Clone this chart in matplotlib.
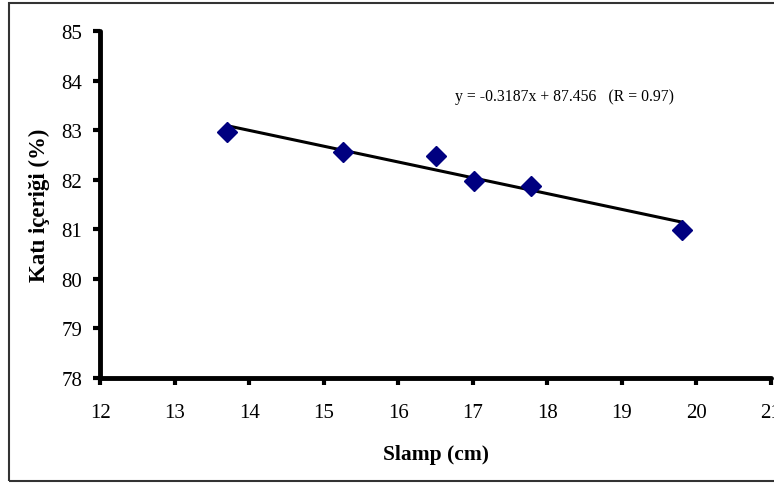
import matplotlib
matplotlib.use("Agg")
import matplotlib.pyplot as plt
import numpy as np
from matplotlib.patches import Rectangle

slump = [13.7, 15.25, 16.5, 17.02, 17.78, 19.8]
solids = [82.96, 82.56, 82.48, 81.97, 81.87, 80.99]
slope = -0.3187
intercept = 87.456
xticks = [12, 13, 14, 15, 16, 17, 18, 19, 20, 21]
yticks = [78, 79, 80, 81, 82, 83, 84, 85]

plt.rcParams['font.family'] = ['Liberation Serif', 'DejaVu Serif']

fig = plt.figure(figsize=(7.74, 4.85), dpi=100)
ax = fig.add_axes([0.1298, 0.2186, 0.996 - 0.1298, 0.934 - 0.2186])

fit_x = np.array([min(slump), max(slump)])
ax.plot(fit_x, slope * fit_x + intercept, color='black', lw=2.2, zorder=2)
ax.plot(slump, solids, linestyle='none', marker='D', ms=10.5, color='#000080',
        markeredgecolor='#000080', zorder=3, clip_on=False)

ax.set_xlim(12, 21)
ax.set_ylim(78, 85)
ax.set_xticks(xticks)
ax.set_yticks(yticks)
ax.tick_params(direction='out', length=5, width=3, labelsize=15)
ax.tick_params(axis='x', pad=13)
ax.tick_params(axis='y', pad=8)
for s in ['top', 'right']:
    ax.spines[s].set_visible(False)
for s in ['left', 'bottom']:
    ax.spines[s].set_linewidth(3.5)
    ax.spines[s].set_capstyle('round')

ax.set_xlabel('Slamp (cm)', fontsize=15.5, fontweight='bold', labelpad=16)
ax.set_ylabel('Katı içeriği (%)', fontsize=16.5, fontweight='bold', labelpad=8)

ax.text(16.76, 83.69, 'y = -0.3187x + 87.456   (R = 0.97)', fontsize=11.3,
        va='center', ha='left')

fig.patches.append(Rectangle((9 / 774, 1 - 482 / 485), 1.0, (482 - 4) / 485,
                             transform=fig.transFigure, fill=False,
                             edgecolor='#333333', lw=1.5))

fig.savefig('out.png', dpi=100)
